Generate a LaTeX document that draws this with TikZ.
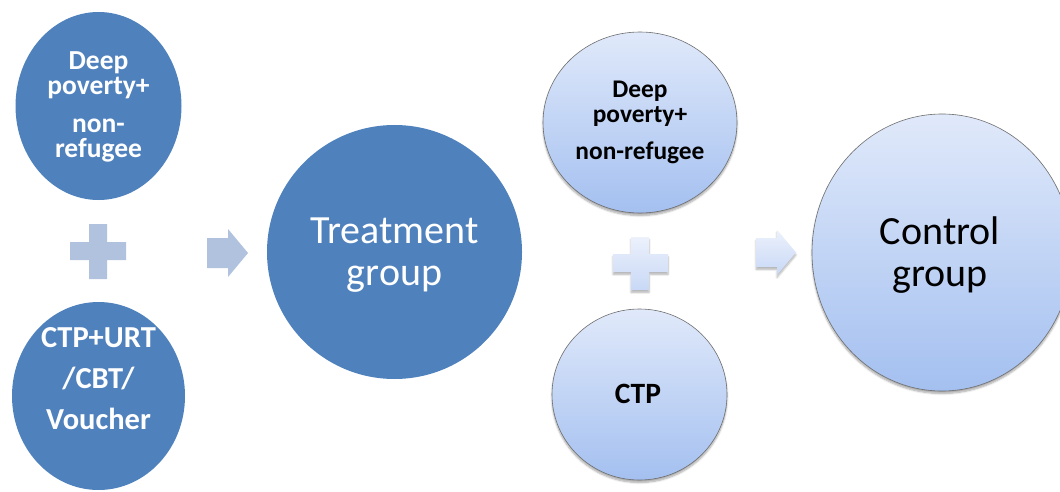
\documentclass[tikz,border=0pt]{standalone}
\usepackage{fontspec}
\setmainfont{Carlito}
\usetikzlibrary{shapes.geometric,shadows.blur}

\definecolor{accblue}{RGB}{79,129,189}
\definecolor{accpale}{RGB}{176,194,222}
\definecolor{circtop}{RGB}{224,233,250}
\definecolor{circbot}{RGB}{164,192,240}
\definecolor{symtop}{RGB}{236,241,252}
\definecolor{symbot}{RGB}{200,216,246}
\definecolor{rimgray}{RGB}{110,110,110}

\tikzset{
  solidcirc/.style={ellipse, fill=accblue, draw=none, inner sep=0pt},
  palecirc/.style={ellipse, top color=circtop, bottom color=circbot,
    draw=rimgray, line width=0.6pt, inner sep=0pt,
    blur shadow={shadow xshift=0pt, shadow yshift=-2.5pt, shadow blur steps=6, shadow opacity=35}},
  solidsym/.style={fill=accpale, draw=none},
  palesym/.style={top color=symtop, bottom color=symbot, draw=none,
    blur shadow={shadow xshift=0pt, shadow yshift=-2.5pt, shadow blur steps=5, shadow opacity=30}},
  whitelabel/.style={text=white, align=center, inner sep=0pt},
  blacklabel/.style={text=black, align=center, inner sep=0pt},
}

\begin{document}
\begin{tikzpicture}[x=1pt,y=-1pt]
  \useasboundingbox (0,0) rectangle (1060,492);
  \clip (0,0) rectangle (1060,492);

  % ---- treatment side ----
  \node[solidcirc, minimum width=166pt, minimum height=188pt] (poorA) at (98.5,106) {};
  \node[whitelabel, font=\bfseries\fontsize{27.5}{25.5}\selectfont] (poorAtxt) at (98.5,107)
    {Deep\\poverty+\\[12pt]non-\\refugee};

  \node[solidcirc, minimum width=173pt, minimum height=188pt] (cashA) at (98.5,396) {};
  \node[whitelabel, font=\bfseries\fontsize{30.5}{41}\selectfont] (cashAtxt) at (98.5,379)
    {CTP+URT\\/CBT/\\Voucher};

  % plus sign between the two inputs
  \path[solidsym] (89,224) -- (107,224) -- (107,242) -- (126,242) -- (126,260)
    -- (107,260) -- (107,279) -- (89,279) -- (89,260) -- (70,260) -- (70,242)
    -- (89,242) -- cycle;

  % block arrow into the treatment group
  \path[solidsym] (207,238) -- (228,238) -- (228,229) -- (248,253) -- (228,277)
    -- (228,268) -- (207,268) -- cycle;

  \node[solidcirc, minimum width=255pt, minimum height=254pt] (treat) at (394.5,252) {};
  \node[whitelabel, font=\fontsize{40}{41.5}\selectfont] (treattxt) at (394.5,255)
    {Treatment\\group};

  % ---- control side ----
  \node[palecirc, minimum width=194pt, minimum height=181pt] (poorB) at (640,122.5) {};
  \node[blacklabel, font=\bfseries\fontsize{25.4}{25}\selectfont] (poorBtxt) at (640,122)
    {Deep\\poverty+\\[12pt]non-refugee};

  \node[palecirc, minimum width=175pt, minimum height=171pt] (cashB) at (639.5,394.5) {};
  \node[blacklabel, font=\bfseries\fontsize{29.5}{35}\selectfont] (cashBtxt) at (638,394)
    {CTP};

  \path[palesym] (631,237) -- (649,237) -- (649,254) -- (668,254) -- (668,272)
    -- (649,272) -- (649,290) -- (631,290) -- (631,272) -- (613,272) -- (613,254)
    -- (631,254) -- cycle;

  \path[palesym] (756,238) -- (777,238) -- (777,230) -- (796,252.5) -- (777,275)
    -- (777,267) -- (756,267) -- cycle;

  \node[palecirc, minimum width=260pt, minimum height=277pt] (ctrl) at (942,252.5) {};
  \node[blacklabel, font=\fontsize{40}{41.5}\selectfont] (ctrltxt) at (940,255)
    {Control\\group};
\end{tikzpicture}
\end{document}
